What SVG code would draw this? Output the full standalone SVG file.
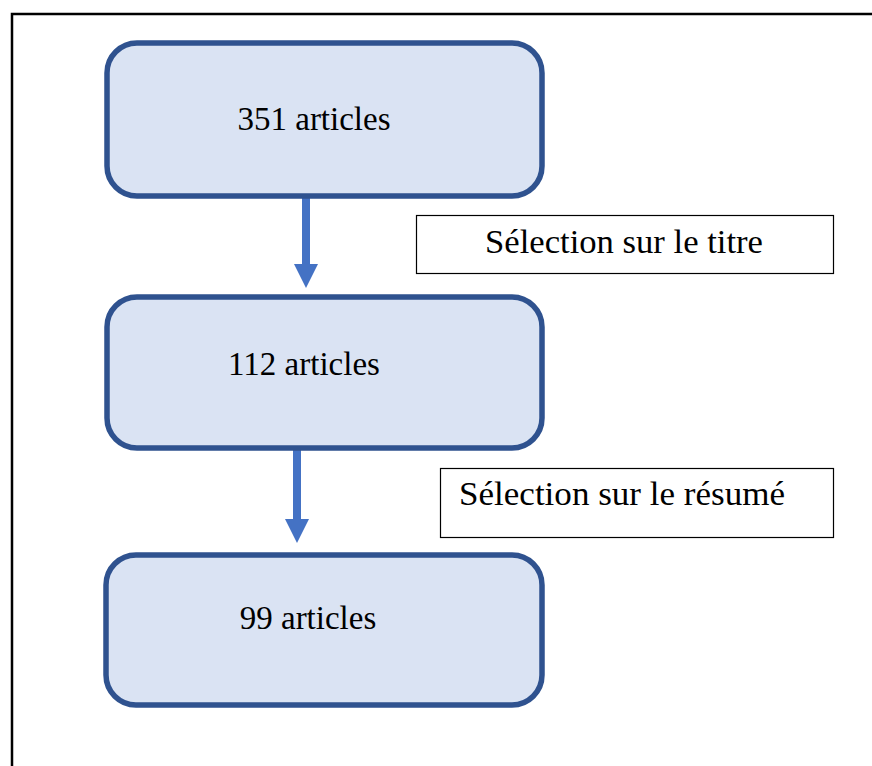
<svg xmlns="http://www.w3.org/2000/svg" width="872" height="766" viewBox="0 0 872 766">
  <style>
    .step { fill: #dae3f3; stroke: #2f528f; stroke-width: 5.5; }
    .note { fill: #ffffff; stroke: #000000; stroke-width: 1.2; }
    .txt { font-family: "Liberation Serif", "Times New Roman", serif; font-size: 33px; fill: #000000; }
    .shaft { stroke: #4472c4; stroke-width: 8; fill: none; }
    .head { fill: #4472c4; }
  </style>
  <rect width="872" height="766" fill="#ffffff"/>
  <!-- outer frame -->
  <rect x="12" y="14" width="880" height="780" fill="none" stroke="#000000" stroke-width="2.5"/>

  <g id="connectors">
    <line class="shaft" x1="306" y1="193" x2="306" y2="265"/>
    <polygon class="head" points="294,264 318,264 306,288"/>
    <line class="shaft" x1="297" y1="446" x2="297" y2="520"/>
    <polygon class="head" points="285,519 309,519 297,543"/>
  </g>

  <g id="node-351">
    <rect class="step" x="107" y="43" width="435" height="153" rx="30"/>
    <text class="txt" x="314" y="130" text-anchor="middle">351 articles</text>
  </g>

  <g id="label-titre">
    <rect class="note" x="416.5" y="215.5" width="417" height="58"/>
    <text class="txt" x="624" y="253" text-anchor="middle" textLength="278" lengthAdjust="spacingAndGlyphs">Sélection sur le titre</text>
  </g>

  <g id="node-112">
    <rect class="step" x="107" y="297" width="435" height="151" rx="30"/>
    <text class="txt" x="304" y="375" text-anchor="middle">112 articles</text>
  </g>

  <g id="label-resume">
    <rect class="note" x="440.5" y="468.5" width="393" height="69"/>
    <text class="txt" x="459" y="505" textLength="326" lengthAdjust="spacingAndGlyphs">Sélection sur le résumé</text>
  </g>

  <g id="node-99">
    <rect class="step" x="106" y="555" width="436" height="150" rx="30"/>
    <text class="txt" x="308" y="629" text-anchor="middle">99 articles</text>
  </g>
</svg>
